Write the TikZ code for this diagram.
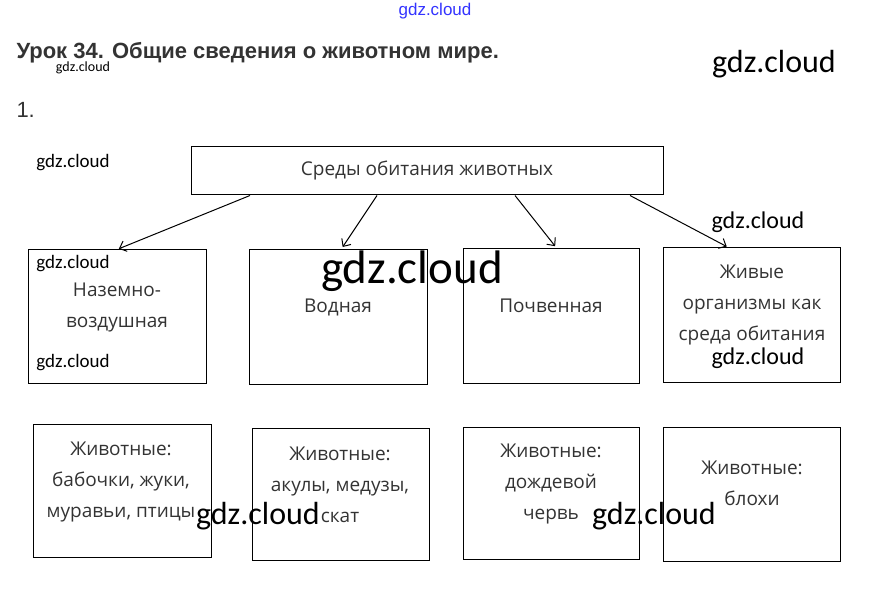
\documentclass[tikz,border=0pt]{standalone}
\usepackage{fontspec}
\setmainfont{Open Sans}
\newfontfamily\wmfont{Carlito}
\newfontfamily\headfont{Liberation Sans}
\usetikzlibrary{arrows.meta}
\definecolor{txtgray}{HTML}{333333}

\begin{document}
\begin{tikzpicture}[x=1pt,y=-1pt,line width=1pt,>={Straight Barb[length=6pt,width=11pt]},
  box/.style={draw,inner sep=0pt},
  txt/.style={text=txtgray,align=center,font=\fontsize{19}{31}\selectfont},
  wm/.style={font=\wmfont\fontsize{#1}{#1}\selectfont,inner sep=0pt}]
  \useasboundingbox (0,0) rectangle (871,596);
  % заголовок
  \node[anchor=west,inner sep=0pt,text=txtgray,font=\headfont\bfseries\fontsize{22}{26}\selectfont] (head) at (16,53) {Урок 34. Общие сведения о животном мире.};
  \node[anchor=west,inner sep=0pt,text=txtgray,font=\headfont\fontsize{22}{26}\selectfont] (num) at (16,110) {1.};
  % главный блок
  \node[box,minimum width=472,minimum height=48,txt] (env) at (427,171) {Среды обитания животных};
  % среды
  \node[box,minimum width=178,minimum height=133] (land) at (117,316.5) {};
  \node[box,minimum width=178,minimum height=134] (water) at (338,317) {};
  \node[box,minimum width=176,minimum height=134] (soil) at (551,316) {};
  \node[box,minimum width=177,minimum height=134] (living) at (751.5,315) {};
  \node[txt] (landT) at (117,307.5) {Наземно-\\воздушная};
  \node[txt] (waterT) at (338,307) {Водная};
  \node[txt] (soilT) at (551,306) {Почвенная};
  \node[txt] (livingT) at (752,305) {Живые\\организмы как\\среда обитания};
  % стрелки
  \draw[->,shorten >=2pt] ([xshift=-177]env.south) -- (land.north);
  \draw[->,shorten >=3pt] ([xshift=-50]env.south) -- ([xshift=3]water.north);
  \draw[->,shorten >=3pt] ([xshift=88]env.south) -- ([xshift=6]soil.north);
  \draw[->,shorten >=2pt] ([xshift=203]env.south) -- ([xshift=-23]living.north);
  % животные
  \node[box,minimum width=178,minimum height=133] (ex1) at (122,490.5) {};
  \node[box,minimum width=177,minimum height=132] (ex2) at (340.5,494) {};
  \node[box,minimum width=176,minimum height=132] (ex3) at (551,493) {};
  \node[box,minimum width=177,minimum height=134] (ex4) at (751.5,494) {};
  \node[txt] (ex1T) at (121,481.5) {Животные:\\бабочки, жуки,\\муравьи, птицы};
  \node[txt] (ex2T) at (340,485) {Животные:\\акулы, медузы,\\скат};
  \node[txt] (ex3T) at (551,483.5) {Животные:\\дождевой\\червь};
  \node[txt] (ex4T) at (752,483) {Животные:\\блохи};
  % водяные знаки
  \node[inner sep=0pt,text=blue!80,font=\headfont\fontsize{17}{17}\selectfont] (wm0) at (435,11) {gdz.cloud};
  \node[wm=14] (wm1) at (83,68) {gdz.cloud};
  \node[wm=32] (wm2) at (774,64) {gdz.cloud};
  \node[wm=19] (wm3) at (73,163) {gdz.cloud};
  \node[wm=24] (wm4) at (758,222) {gdz.cloud};
  \node[wm=19] (wm5) at (73,264) {gdz.cloud};
  \node[wm=19] (wm6) at (73,363) {gdz.cloud};
  \node[wm=47] (wm7) at (412,271) {gdz.cloud};
  \node[wm=24] (wm8) at (758,358) {gdz.cloud};
  \node[wm=32] (wm9) at (258,516) {gdz.cloud};
  \node[wm=32] (wm10) at (654,516) {gdz.cloud};
\end{tikzpicture}
\end{document}
